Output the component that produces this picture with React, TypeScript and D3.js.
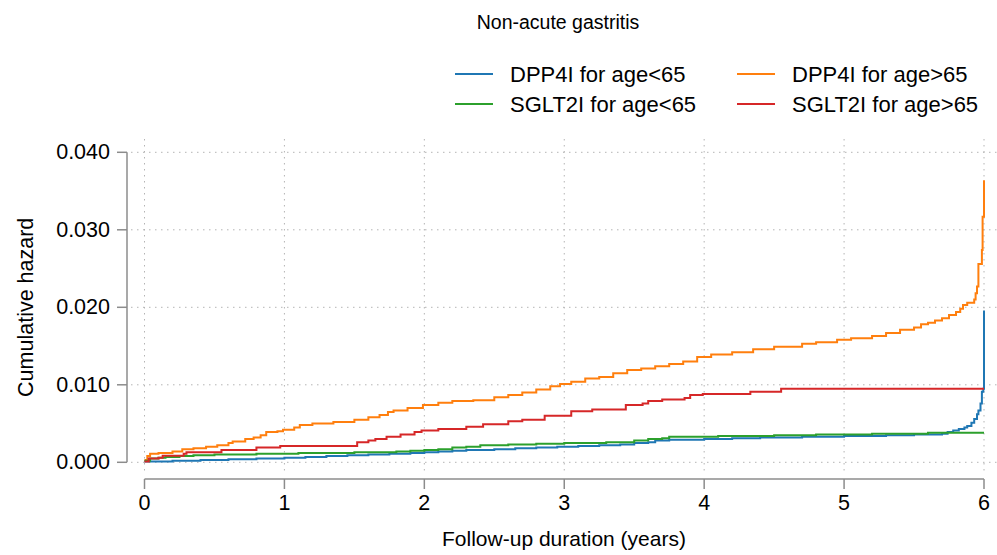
import React from "react";
import * as d3 from "d3";

const title = "Non-acute gastritis";
const xLabel = "Follow-up duration (years)";
const yLabel = "Cumulative hazard";
const xTicks = [0, 1, 2, 3, 4, 5, 6];
const yTicks = [0, 0.01, 0.02, 0.03, 0.04];
const seriesNames = ["DPP4I for age<65", "DPP4I for age>65", "SGLT2I for age<65", "SGLT2I for age>65"];
const seriesColors = ["#1f77b4", "#ff7f0e", "#2ca02c", "#d62728"];

const dppYoung: [number, number][] = [
  [0, 0.0001], [0.05, 0.0001], [0.2, 0.0002], [0.4, 0.0003], [0.6, 0.0004], [0.8, 0.0005],
  [1.0, 0.0006], [1.15, 0.0007], [1.3, 0.0008], [1.45, 0.0009], [1.6, 0.001], [1.75, 0.0011],
  [1.9, 0.0012], [2.0, 0.0013], [2.1, 0.0014], [2.2, 0.0015], [2.3, 0.0016], [2.5, 0.0017],
  [2.65, 0.0018], [2.8, 0.0019], [2.95, 0.002], [3.1, 0.0021], [3.25, 0.0022], [3.4, 0.0023],
  [3.5, 0.0025], [3.6, 0.0026], [3.65, 0.0028], [3.75, 0.0029], [4.0, 0.003], [4.2, 0.0031],
  [4.4, 0.0032], [4.7, 0.0033], [5.0, 0.0034], [5.3, 0.0035], [5.5, 0.0036], [5.7, 0.0037],
  [5.74, 0.0039], [5.78, 0.0041], [5.82, 0.0043], [5.86, 0.0045], [5.88, 0.0047], [5.91, 0.0051],
  [5.93, 0.0056], [5.95, 0.0062], [5.96, 0.0067], [5.975, 0.0076], [5.985, 0.0091],
  [5.995, 0.0095], [6.0, 0.0196],
];

const dppOld: [number, number][] = [
  [0, 0.0003], [0.02, 0.0008], [0.04, 0.0011], [0.1, 0.0012], [0.2, 0.0014], [0.27, 0.0017],
  [0.35, 0.0018], [0.44, 0.002], [0.52, 0.0022], [0.6, 0.0025], [0.63, 0.0027], [0.72, 0.003],
  [0.78, 0.0032], [0.83, 0.0035], [0.87, 0.0039], [0.95, 0.004], [0.99, 0.0042], [1.07, 0.0045],
  [1.11, 0.0048], [1.2, 0.005], [1.35, 0.0052], [1.5, 0.0055], [1.6, 0.0058], [1.68, 0.0061],
  [1.74, 0.0065], [1.78, 0.0067], [1.88, 0.007], [1.99, 0.0074], [2.1, 0.0077], [2.2, 0.0079],
  [2.35, 0.008], [2.5, 0.0084], [2.6, 0.0087], [2.7, 0.009], [2.8, 0.0094], [2.9, 0.0098],
  [2.97, 0.0101], [3.05, 0.0104], [3.15, 0.0108], [3.25, 0.011], [3.35, 0.0115], [3.45, 0.0119],
  [3.55, 0.0121], [3.65, 0.0124], [3.75, 0.0127], [3.85, 0.013], [3.95, 0.0136], [4.05, 0.0139],
  [4.2, 0.0142], [4.35, 0.0146], [4.5, 0.0149], [4.7, 0.0153], [4.8, 0.0155], [4.95, 0.0158],
  [5.05, 0.016], [5.2, 0.0163], [5.3, 0.0167], [5.4, 0.0171], [5.5, 0.0174], [5.55, 0.0178],
  [5.6, 0.018], [5.65, 0.0183], [5.7, 0.0186], [5.75, 0.019], [5.8, 0.0194], [5.83, 0.0198],
  [5.85, 0.0203], [5.88, 0.0206], [5.93, 0.021], [5.94, 0.0218], [5.95, 0.0227], [5.96, 0.0256],
  [5.985, 0.0274], [5.99, 0.0317], [6.0, 0.0364],
];

const sgltYoung: [number, number][] = [
  [0, 0.0002], [0.04, 0.0005], [0.1, 0.0006], [0.15, 0.0007], [0.25, 0.0008], [0.35, 0.0009],
  [0.5, 0.001], [0.8, 0.0011], [1.1, 0.0012], [1.5, 0.0013], [1.8, 0.0014], [1.9, 0.0015],
  [2.0, 0.0016], [2.1, 0.0017], [2.2, 0.0019], [2.3, 0.002], [2.4, 0.0022], [2.6, 0.0023],
  [2.8, 0.0024], [3.0, 0.0025], [3.3, 0.0026], [3.5, 0.0028], [3.6, 0.003], [3.7, 0.0031],
  [3.75, 0.0033], [4.1, 0.0034], [4.5, 0.0035], [4.8, 0.0036], [5.2, 0.0037], [5.6, 0.0038],
  [6.0, 0.0038],
];

const sgltOld: [number, number][] = [
  [0, 0.0001], [0.03, 0.0005], [0.1, 0.0006], [0.13, 0.00085], [0.28, 0.0011], [0.3, 0.0013],
  [0.55, 0.0016], [0.8, 0.0019], [0.97, 0.0021], [1.52, 0.0026], [1.6, 0.0028], [1.65, 0.003],
  [1.73, 0.0033], [1.83, 0.0036], [1.93, 0.0039], [1.98, 0.0041], [2.1, 0.0043], [2.3, 0.0046],
  [2.42, 0.0049], [2.6, 0.0053], [2.7, 0.0055], [2.86, 0.006], [3.05, 0.0066], [3.2, 0.0068],
  [3.44, 0.0074], [3.56, 0.0076], [3.6, 0.0079], [3.7, 0.0081], [3.86, 0.0083], [3.9, 0.0087],
  [3.99, 0.0088], [4.33, 0.0091], [4.55, 0.0095], [6.0, 0.0095],
];

const allSeries = [dppYoung, dppOld, sgltYoung, sgltOld];

const W = 997;
const H = 555;
const FONT = "'Liberation Sans', Arial, Helvetica, sans-serif";

export default function App() {
  const x = d3.scaleLinear().domain([0, 6]).range([144.5, 984]);
  const y = d3.scaleLinear().domain([0, 0.04]).range([462.3, 152.3]);
  const line = d3
    .line<[number, number]>()
    .x((d) => x(d[0]))
    .y((d) => y(d[1]))
    .curve(d3.curveStepAfter);

  const gridColor = "#b4b4b4";
  const axisColor = "#8c8c8c";

  const legendPos = [
    { lx: 455, ty: 74 },
    { lx: 737, ty: 74 },
    { lx: 455, ty: 104 },
    { lx: 737, ty: 104 },
  ];

  return (
    <svg
      width={W}
      height={H}
      style={{ position: "absolute", left: 0, top: 0, background: "#fff" }}
      fontFamily={FONT}
    >
      <rect x={0} y={0} width={W} height={H} fill="#fff" />
      {/* title */}
      <text x={558} y={22} fontSize={19.5} textAnchor="middle" dominantBaseline="central" fill="#000">
        {title}
      </text>
      {/* legend */}
      {seriesNames.map((name, i) => (
        <g key={name}>
          <line
            x1={legendPos[i].lx}
            x2={legendPos[i].lx + 38}
            y1={legendPos[i].ty}
            y2={legendPos[i].ty}
            stroke={seriesColors[i]}
            strokeWidth={2}
          />
          <text
            x={legendPos[i].lx + 55}
            y={legendPos[i].ty}
            fontSize={22}
            dominantBaseline="central"
            fill="#000"
          >
            {name}
          </text>
        </g>
      ))}
      {/* grid */}
      {yTicks.map((t) => (
        <line
          key={"gy" + t}
          x1={131}
          x2={997}
          y1={y(t)}
          y2={y(t)}
          stroke={gridColor}
          strokeWidth={1}
          strokeDasharray="1.5 4.5"
        />
      ))}
      {xTicks.map((t) => (
        <line
          key={"gx" + t}
          x1={x(t)}
          x2={x(t)}
          y1={139}
          y2={472}
          stroke={gridColor}
          strokeWidth={1}
          strokeDasharray="1.5 4.5"
        />
      ))}
      {/* y axis */}
      <line x1={127} x2={127} y1={y(0)} y2={y(0.04)} stroke={axisColor} strokeWidth={1.5} />
      {yTicks.map((t) => (
        <g key={"yt" + t}>
          <line x1={117} x2={127} y1={y(t)} y2={y(t)} stroke={axisColor} strokeWidth={1.5} />
          <text x={110} y={y(t)} fontSize={21.5} textAnchor="end" dominantBaseline="central" fill="#000">
            {d3.format(".3f")(t)}
          </text>
        </g>
      ))}
      <text
        transform={`translate(26,${(y(0) + y(0.04)) / 2}) rotate(-90)`}
        fontSize={21.5}
        textAnchor="middle"
        dominantBaseline="central"
        fill="#000"
      >
        {yLabel}
      </text>
      {/* x axis */}
      <line x1={x(0)} x2={x(6)} y1={479} y2={479} stroke={axisColor} strokeWidth={1.5} />
      {xTicks.map((t) => (
        <g key={"xt" + t}>
          <line x1={x(t)} x2={x(t)} y1={479} y2={489} stroke={axisColor} strokeWidth={1.5} />
          <text x={x(t)} y={503} fontSize={21.5} textAnchor="middle" dominantBaseline="central" fill="#000">
            {t}
          </text>
        </g>
      ))}
      <text x={564} y={538} fontSize={21} textAnchor="middle" dominantBaseline="central" fill="#000">
        {xLabel}
      </text>
      {/* series */}
      {allSeries.map((s, i) => (
        <path
          key={seriesNames[i]}
          d={line(s) || ""}
          fill="none"
          stroke={seriesColors[i]}
          strokeWidth={2}
          strokeLinejoin="miter"
        />
      ))}
    </svg>
  );
}
